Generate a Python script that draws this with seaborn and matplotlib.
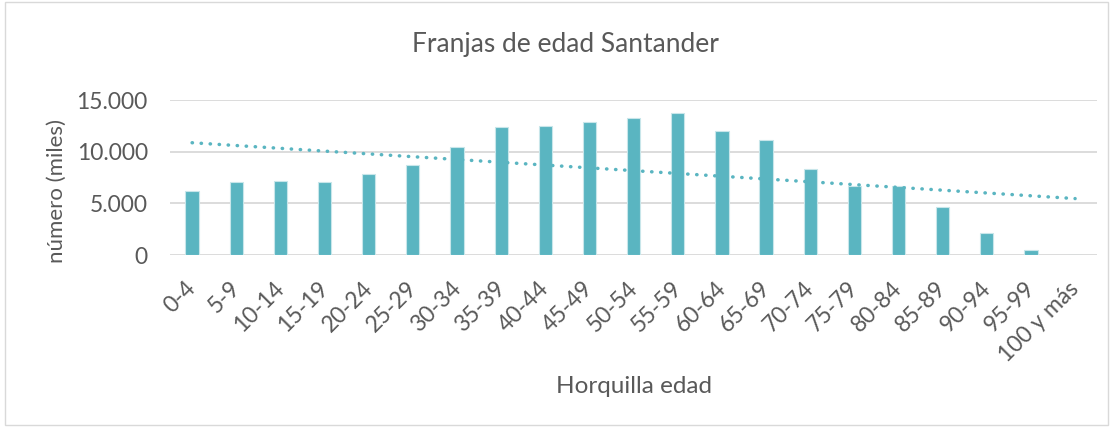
import numpy as np
import pandas as pd
import matplotlib.pyplot as plt
import matplotlib.transforms as mtransforms
import seaborn as sns
from matplotlib.patches import Rectangle
from matplotlib.ticker import FuncFormatter

# Population by age group (thousands, stored as units)
franjas = ["0-4", "5-9", "10-14", "15-19", "20-24", "25-29", "30-34", "35-39",
           "40-44", "45-49", "50-54", "55-59", "60-64", "65-69", "70-74",
           "75-79", "80-84", "85-89", "90-94", "95-99", "100 y más"]
numero = [6230, 7080, 7140, 7110, 7860, 8770, 10490, 12390,
          12470, 12890, 13250, 13800, 11980, 11140, 8340,
          6680, 6700, 4670, 2120, 520, 30]

color = "#5AB5C1"
gris = "#595959"

sns.set_theme(style="white")
plt.rcParams["font.family"] = ["Lato", "DejaVu Sans"]

df = pd.DataFrame({"franja": franjas, "numero": numero})

fig = plt.figure(figsize=(11.15, 4.28), dpi=100)
ax = fig.add_axes([0.1525, 0.404, 0.8315, 0.362])

sns.barplot(data=df, x="franja", y="numero", color=color, width=0.3,
            edgecolor="#C8E6EA", linewidth=0.8, saturation=1, ax=ax, zorder=3)

# linear trendline (Excel style)
x = np.arange(len(franjas))
coef = np.polyfit(x, df["numero"], 1)
ax.plot(x, np.polyval(coef, x), linestyle=(0, (0.1, 2.5)), dash_capstyle="round",
        color=color, linewidth=2.5, zorder=4)

ax.set_ylim(0, 15000)
ax.set_xlim(-0.5, len(franjas) - 0.5)
ax.set_yticks([0, 5000, 10000, 15000])
ax.yaxis.set_major_formatter(FuncFormatter(lambda v, p: f"{int(v):,}".replace(",", ".")))
ax.grid(axis="y", color="#D9D9D9", linewidth=1.3, zorder=0)
ax.set_axisbelow(True)
for s in ax.spines.values():
    s.set_visible(False)

ax.tick_params(axis="y", labelsize=16.5, labelcolor=gris, length=0, pad=16)
ax.tick_params(axis="x", labelsize=16.5, labelcolor=gris, length=0, pad=25)
shift = mtransforms.ScaledTranslation(5 / 100, 0, fig.dpi_scale_trans)
for lab in ax.get_xticklabels():
    lab.set_rotation(45)
    lab.set_ha("right")
    lab.set_va("baseline")
    lab.set_rotation_mode("anchor")
    lab.set_transform(lab.get_transform() + shift)

ax.set_xlabel("Horquilla edad", fontsize=17.5, color=gris, va="baseline")
ax.xaxis.set_label_coords(0.5, -0.89)
ax.set_ylabel("número (miles)", fontsize=16, color=gris, va="center")
ax.yaxis.set_label_coords(-0.122, 0.413)
fig.text(0.507, 0.878, "Franjas de edad Santander", fontsize=19, color=gris,
         ha="center", va="baseline")

fig.patches.append(Rectangle((0.0045, 0.006), 0.989, 0.99, transform=fig.transFigure,
                             fill=False, edgecolor="#D9D9D9", linewidth=1))

fig.savefig("out.png", dpi=100)
